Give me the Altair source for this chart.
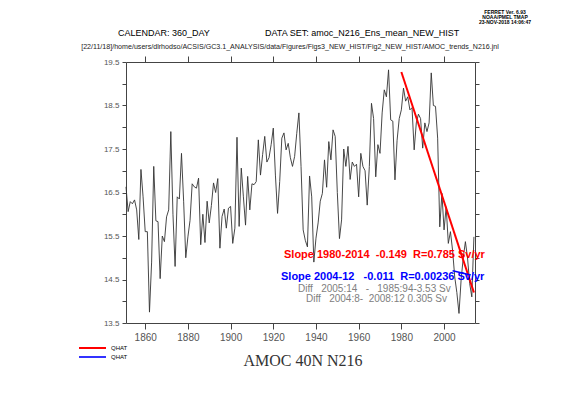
import altair as alt
import pandas as pd

years = list(range(1851, 2015))
amoc = [
    16.63, 16.06, 16.29, 16.24, 16.33, 16.10, 15.42, 17.03, 16.40, 15.60,
    15.60, 13.75, 14.90, 17.10, 15.85, 15.83, 14.52, 15.50, 15.37, 15.94,
    16.10, 17.90, 16.00, 14.80, 16.40, 16.35, 17.40, 16.30, 15.00, 15.48,
    15.86, 16.70, 16.63, 16.60, 16.83, 15.30, 16.00, 15.35, 16.30, 15.80,
    16.20, 16.72, 16.50, 16.82, 15.22, 15.95, 16.12, 15.68, 16.14, 16.18,
    15.33, 15.68, 17.77, 15.72, 17.06, 16.40, 15.75, 16.87, 16.10, 16.70,
    16.68, 16.75, 17.71, 16.90, 17.37, 17.79, 17.20, 17.30, 17.60, 17.98,
    16.90, 16.02, 16.75, 17.75, 17.87, 17.48, 17.63, 17.30, 17.10, 17.33,
    17.86, 18.33, 17.10, 15.64, 15.40, 15.25, 16.88, 16.40, 14.90, 15.45,
    15.80, 16.30, 16.48, 17.25, 16.62, 17.67, 17.25, 17.94, 17.79, 16.50,
    15.44, 15.87, 17.50, 17.10, 17.56, 16.80, 17.20, 17.10, 17.15, 16.40,
    17.40, 17.10, 17.00, 16.21, 17.10, 18.55, 18.20, 16.86, 17.60, 17.40,
    18.33, 18.86, 18.70, 19.32, 18.17, 18.14, 16.79, 17.70, 18.20, 18.40,
    18.90, 18.60, 18.70, 18.40, 18.45, 17.48, 18.10, 18.30, 18.20, 17.52,
    18.10, 17.90, 18.10, 19.25, 18.50, 18.48, 17.75, 15.71, 16.48, 15.64,
    16.17, 15.33, 15.60, 15.17, 14.56, 14.20, 13.72, 14.50, 15.00, 15.37,
    15.00, 14.41, 14.10, 15.48,
]
fit1_years = [1980, 2014]
fit1_vals = [19.27, 14.20]
fit2_years = [2004, 2012]
fit2_vals = [14.70, 14.61]
x_ticks = [1860, 1880, 1900, 1920, 1940, 1960, 1980, 2000]
y_ticks = [13.5, 14.0, 14.5, 15.0, 15.5, 16.0, 16.5, 17.0, 17.5, 18.0, 18.5, 19.0, 19.5]

NB = "\u00a0"
txt_slope1 = "Slope 1980-2014" + NB * 2 + "-0.149" + NB * 2 + "R=0.785 Sv/yr"
txt_slope2 = "Slope 2004-12" + NB * 3 + "-0.011" + NB * 2 + "R=0.00236 Sv/yr"
txt_diff1 = "Diff" + NB * 3 + "2005:14" + NB * 3 + "-" + NB * 3 + "1985:94-3.53 Sv"
txt_diff2 = "Diff" + NB * 3 + "2004:8-" + NB * 2 + "2008:12 0.305 Sv"
txt_cal = "CALENDAR: 360_DAY"
txt_ds = "DATA SET: amoc_N216_Ens_mean_NEW_HIST"
txt_path = "[22/11/18]/home/users/dlrhodso/ACSIS/GC3.1_ANALYSIS/data/Figures/Figs3_NEW_HIST/Fig2_NEW_HIST/AMOC_trends_N216.jnl"
txt_ferret = ["FERRET Ver. 6.93", "NOAA/PMEL TMAP", "23-NOV-2018 14:06:47"]
txt_title = "AMOC 40N N216"
legend_labels = ["QHAT", "QHAT"]

FONT = "Liberation Sans"
AX = "#444"

df = pd.DataFrame({"year": years, "amoc": amoc})
df_fit1 = pd.DataFrame({"year": fit1_years, "amoc": fit1_vals})
df_fit2 = pd.DataFrame({"year": fit2_years, "amoc": fit2_vals})

xscale = alt.Scale(domain=[1851, 2014.5], nice=False, zero=False)
yscale = alt.Scale(domain=[13.5, 19.5], nice=False, zero=False)

common_axis = dict(grid=False, title=None, domainColor=AX, tickColor=AX,
                   domainWidth=1, tickWidth=1)

line = alt.Chart(df).mark_line(color="#333", strokeWidth=0.9).encode(
    x=alt.X("year:Q", scale=xscale,
            axis=alt.Axis(orient="bottom", values=x_ticks, format="d", tickSize=6,
                          labelFontSize=10, labelColor="#555", labelFont=FONT,
                          labelPadding=3, **common_axis)),
    y=alt.Y("amoc:Q", scale=yscale,
            axis=alt.Axis(orient="left", values=y_ticks, format=".1f", tickSize=4,
                          labelFontSize=8, labelColor="#555", labelFont=FONT,
                          labelPadding=3,
                          labelExpr="(round(datum.value*2) % 2 == 1) ? datum.label : ''",
                          **common_axis)),
)

fit1 = alt.Chart(df_fit1).mark_line(color="#ff0000", strokeWidth=2).encode(
    x=alt.X("year:Q", scale=xscale,
            axis=alt.Axis(orient="top", values=x_ticks, labels=False, tickSize=6,
                          **common_axis)),
    y=alt.Y("amoc:Q", scale=yscale,
            axis=alt.Axis(orient="right", values=y_ticks, labels=False, tickSize=4,
                          **common_axis)),
)

fit2 = alt.Chart(df_fit2).mark_line(color="#0000ff", strokeWidth=1.5).encode(
    x=alt.X("year:Q", scale=xscale, axis=None),
    y=alt.Y("amoc:Q", scale=yscale, axis=None),
)


def label(text, x, y, size, color="black", weight="normal", font=FONT,
          align="left", baseline="middle"):
    return alt.Chart(pd.DataFrame({"label": [text]})).mark_text(
        align=align, baseline=baseline, fontSize=size, color=color,
        fontWeight=weight, font=font
    ).encode(x=alt.value(x), y=alt.value(y), text="label:N")


texts = [
    label(txt_slope1, 158, 193, 11, color="#ff0000", weight="bold"),
    label(txt_slope2, 155, 215, 11, color="#0000ff", weight="bold"),
    label(txt_diff1, 172, 227, 10, color="#808080"),
    label(txt_diff2, 180, 237, 10, color="#808080"),
    label(txt_cal, -8, -29, 9),
    label(txt_ds, 139, -29, 9),
    label(txt_path, 164, -15, 7.1, color="#222", align="center"),
    label(txt_ferret[0], 379, -50, 5, align="center", weight="bold"),
    label(txt_ferret[1], 379, -45, 5, align="center", weight="bold"),
    label(txt_ferret[2], 379, -40, 5, align="center", weight="bold"),
    label(txt_title, 177, 299, 16, color="#333", font="Liberation Serif", align="center"),
    label(legend_labels[0], -15, 286, 6),
    label(legend_labels[1], -15, 295, 6),
]

leg_red = alt.Chart(pd.DataFrame({"k": [0]})).mark_rule(color="#ff0000", strokeWidth=2).encode(
    x=alt.value(-47), x2=alt.value(-20), y=alt.value(286))
leg_blue = alt.Chart(pd.DataFrame({"k": [0]})).mark_rule(color="#3333ff", strokeWidth=2).encode(
    x=alt.value(-47), x2=alt.value(-20), y=alt.value(295))

chart = alt.layer(line, fit1, fit2, leg_red, leg_blue, *texts).resolve_axis(
    x="independent", y="independent"
).properties(
    width=349, height=261,
    autosize=alt.AutoSizeParams(type="none"),
    padding={"left": 118, "top": 54, "right": 60, "bottom": 60},
    background="white",
).configure_view(stroke=None)

chart.save("out.html", embed_options={"renderer": "svg", "actions": False})
